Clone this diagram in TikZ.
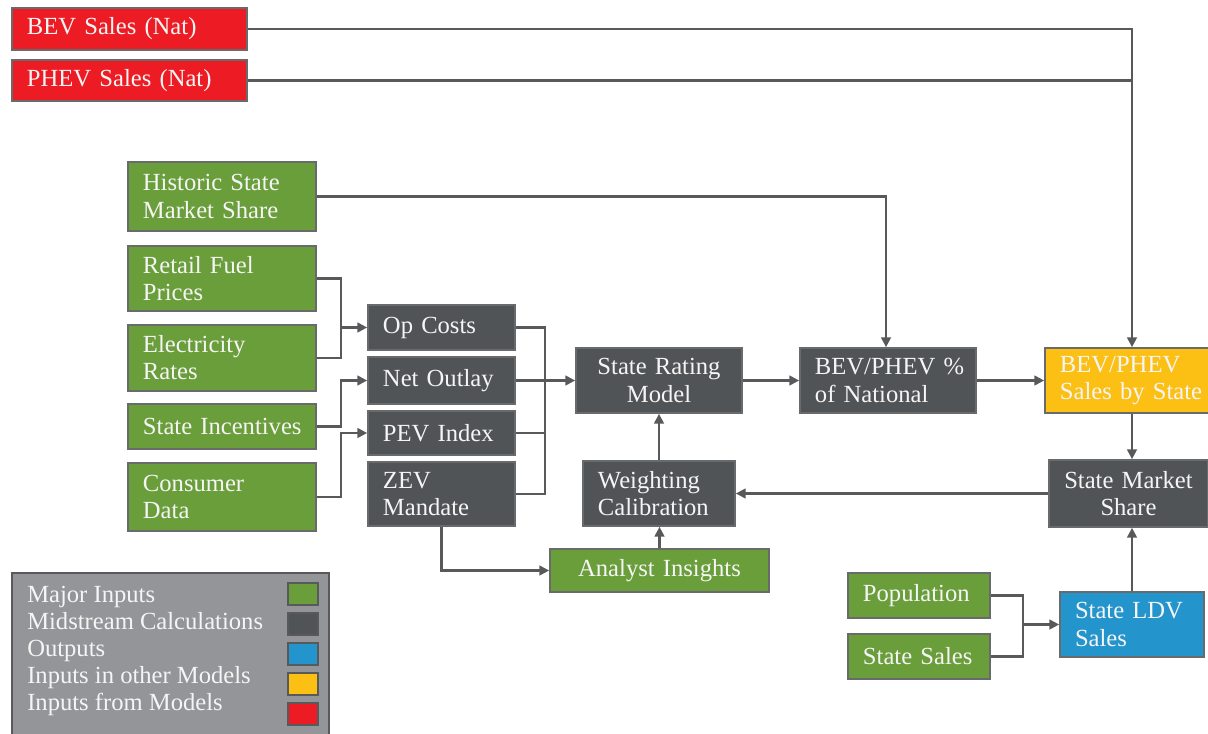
\documentclass[tikz,border=0pt]{standalone}
\usepackage{fontspec}
\setmainfont{Liberation Serif}
\usetikzlibrary{arrows.meta}
\definecolor{ingreen}{HTML}{6A9E3A}
\definecolor{midgray}{HTML}{515457}
\definecolor{outblue}{HTML}{2394CC}
\definecolor{othyellow}{HTML}{FCBF14}
\definecolor{fromred}{HTML}{ED1C24}
\definecolor{leggray}{HTML}{939598}
\definecolor{wire}{HTML}{58595B}
\begin{document}
\begin{tikzpicture}[x=0.025cm,y=-0.025cm,
  every node/.style={font=\fontsize{17.5}{19.3}\selectfont,text=white!96!black},
  box/.style={draw=wire!90!white,line width=1.2pt,inner xsep=0pt,inner ysep=0pt,align=left,
    execute at begin node={\leftskip=0.375cm}},
  cbox/.style={draw=wire!90!white,line width=1.2pt,inner xsep=0pt,inner ysep=0pt,align=center},
  link/.style={draw=wire,line width=1.5pt},
  arrow/.style={link,-{Triangle[length=7pt,width=7pt]}},
  legkey/.style={draw=wire,line width=1.2pt,minimum width=0.75cm,minimum height=0.55cm,inner sep=0pt}]
\useasboundingbox (0,0) rectangle (1208,734);
% models upstream
\node[box,fill=fromred,text width=5.875cm,minimum height=1.05cm] (bevnat) at (129.5,29) {BEV Sales (Nat)};
\node[box,fill=fromred,text width=5.875cm,minimum height=1.03cm] (phevnat) at (129.5,80.5) {PHEV Sales (Nat)};
% major inputs
\node[box,fill=ingreen,text width=4.7cm,minimum height=1.725cm] (histshare) at (222,196.5) {Historic State\\Market Share};
\node[box,fill=ingreen,text width=4.7cm,minimum height=1.625cm] (fuel) at (222,278.5) {Retail Fuel\\Prices};
\node[box,fill=ingreen,text width=4.7cm,minimum height=1.65cm] (elec) at (222,358) {Electricity\\Rates};
\node[box,fill=ingreen,text width=4.7cm,minimum height=1.125cm] (incent) at (222,426.5) {State Incentives};
\node[box,fill=ingreen,text width=4.7cm,minimum height=1.7cm] (consumer) at (222,497) {Consumer\\Data};
% midstream
\node[box,fill=midgray,text width=3.675cm,minimum height=1.125cm] (opcost) at (441.5,327.5) {Op Costs};
\node[box,fill=midgray,text width=3.675cm,minimum height=1.175cm] (outlay) at (441.5,380.5) {Net Outlay};
\node[box,fill=midgray,text width=3.675cm,minimum height=1.1cm] (pevidx) at (441.5,433) {PEV Index};
\node[box,fill=midgray,text width=3.675cm,minimum height=1.6cm] (zev) at (441.5,494) {ZEV\\Mandate};
\node[cbox,fill=midgray,text width=4.15cm,minimum height=1.625cm] (rating) at (659,380.5) {State Rating\\Model};
\node[box,fill=midgray,text width=4.4cm,minimum height=1.625cm] (pctnat) at (888,380.5) {BEV/PHEV \%\\of National};
\node[box,fill=othyellow,text width=4.125cm,minimum height=1.625cm] (bystate) at (1127.5,380.5) {BEV/PHEV\\Sales by State};
\node[box,fill=midgray,text width=3.8cm,minimum height=1.625cm] (weight) at (659,493.5) {Weighting\\Calibration};
\node[cbox,fill=ingreen,text width=5.475cm,minimum height=1.075cm] (analyst) at (659.5,570.5) {Analyst Insights};
\node[cbox,fill=midgray,text width=3.975cm,minimum height=1.675cm] (mktshare) at (1128.5,493.5) {State Market\\Share};
\node[box,fill=ingreen,text width=3.55cm,minimum height=1.125cm] (pop) at (919,595.5) {Population};
\node[box,fill=ingreen,text width=3.55cm,minimum height=1.125cm] (stsales) at (919,656.5) {State Sales};
\node[box,fill=outblue,text width=3.6cm,minimum height=1.625cm] (ldv) at (1132,624.5) {State LDV\\Sales};
% junctions
\coordinate (natjoin) at (1132,29);
\coordinate (histjoin) at (886,196.5);
\coordinate (opjoin) at (341,327.5);
\coordinate (outjoin) at (341,380.5);
\coordinate (pevjoin) at (341,433);
\coordinate (midjoin) at (545,380.5);
\coordinate (ldvjoin) at (1023,624.5);
% connectors
\draw[arrow] (bevnat) -- (natjoin) -- (natjoin |- bystate.north);
\draw[link] (phevnat) -- (phevnat -| natjoin);
\draw[arrow] (histshare) -- (histjoin) -- (histjoin |- pctnat.north);
\draw[link] (fuel.east) -| (opjoin);
\draw[link] (elec.east) -| (opjoin);
\draw[arrow] (opjoin) -- (opcost.west);
\draw[arrow] (incent.east) -| (outjoin) -- (outlay.west);
\draw[arrow] (consumer.east) -| (pevjoin) -- (pevidx.west);
\draw[link] (opcost.east) -| (midjoin);
\draw[link] (pevidx.east) -| (midjoin);
\draw[link] (zev.east) -| (midjoin);
\draw[arrow] (outlay) -- (rating);
\draw[arrow] (rating) -- (pctnat);
\draw[arrow] (pctnat) -- (bystate);
\draw[arrow] (bystate.south -| natjoin) -- (mktshare.north -| natjoin);
\draw[arrow] (mktshare) -- (weight);
\draw[arrow] (weight) -- (rating);
\draw[arrow] (analyst.north) -- (analyst.north |- weight.south);
\draw[arrow] (zev.south) |- (analyst.west);
\draw[link] (pop.east) -| (ldvjoin);
\draw[link] (stsales.east) -| (ldvjoin);
\draw[arrow] (ldvjoin) -- (ldv.west);
\draw[arrow] (ldv.north -| natjoin) -- (mktshare.south -| natjoin);
% legend
\draw[fill=leggray,draw=wire,line width=1.2pt] (12,573) rectangle (329,745);
\foreach \lbl/\col [count=\i] in {Major Inputs/ingreen,Midstream Calculations/midgray,Outputs/outblue,Inputs in other Models/othyellow,Inputs from Models/fromred}{
  \node[anchor=base west,inner sep=0pt] (leg\i) at (27,574.8+27.2*\i) {\lbl};
  \node[legkey,fill=\col] (key\i) at (303,564+30*\i) {};
}
\end{tikzpicture}
\end{document}
